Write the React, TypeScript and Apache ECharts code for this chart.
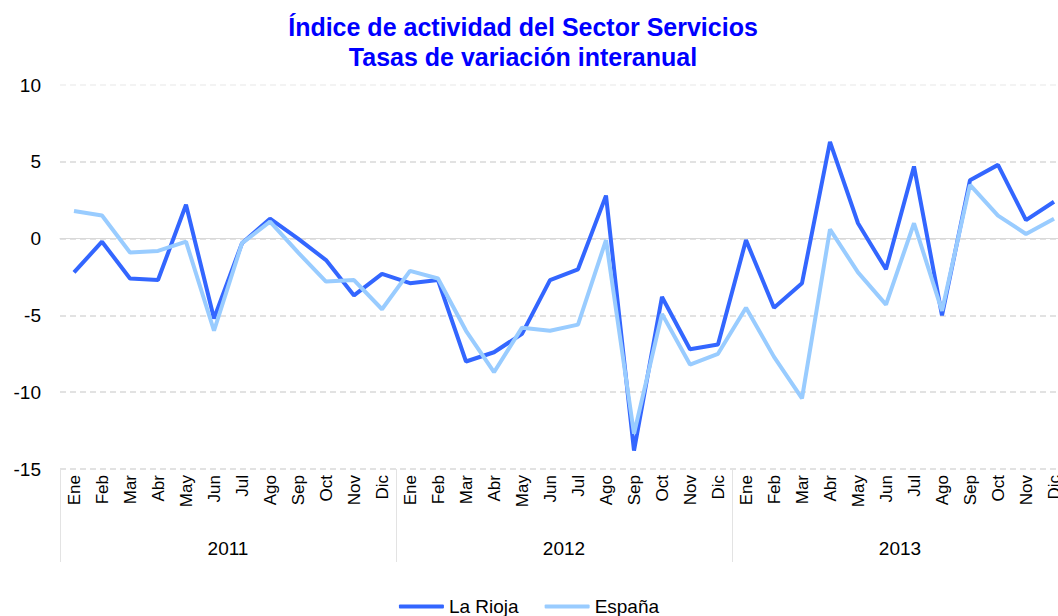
import React, { useEffect, useRef } from "react";
import * as echarts from "echarts";

const monthNames = ["Ene", "Feb", "Mar", "Abr", "May", "Jun", "Jul", "Ago", "Sep", "Oct", "Nov", "Dic"];
const years = ["2011", "2012", "2013"];
const laRioja = [
  -2.2, -0.2, -2.6, -2.7, 2.2, -5.2, -0.3, 1.3, 0.0, -1.4, -3.7, -2.3,
  -2.9, -2.7, -8.0, -7.4, -6.2, -2.7, -2.0, 2.8, -13.8, -3.8, -7.2, -6.9,
  -0.1, -4.5, -2.9, 6.3, 1.0, -2.0, 4.7, -5.0, 3.8, 4.8, 1.2, 2.4,
];
const espana = [
  1.8, 1.5, -0.9, -0.8, -0.2, -6.0, -0.3, 1.1, -0.9, -2.8, -2.7, -4.6,
  -2.1, -2.6, -6.0, -8.7, -5.8, -6.0, -5.6, -0.1, -12.7, -4.9, -8.2, -7.5,
  -4.5, -7.7, -10.4, 0.6, -2.2, -4.3, 1.0, -4.7, 3.5, 1.5, 0.3, 1.3,
];
const titleLines = ["Índice de actividad del Sector Servicios", "Tasas de variación interanual"];
const seriesNames = ["La Rioja", "España"];

const categories = years.flatMap(() => monthNames);
const FONT = "Liberation Sans, Arial, Helvetica, sans-serif";

export default function App() {
  const ref = useRef<HTMLDivElement>(null);
  useEffect(() => {
    if (!ref.current) return;
    const chart = echarts.init(ref.current, null, { renderer: "svg" });
    chart.setOption({
      animation: false,
      backgroundColor: "#ffffff",
      textStyle: { fontFamily: FONT },
      graphic: [
        {
          type: "text",
          x: 523,
          y: 27,
          style: {
            text: titleLines[0],
            fill: "#0000ff",
            font: `bold 25px ${FONT}`,
            align: "center",
            verticalAlign: "middle",
          },
        },
        {
          type: "text",
          x: 523,
          y: 57,
          style: {
            text: titleLines[1],
            fill: "#0000ff",
            font: `bold 25px ${FONT}`,
            align: "center",
            verticalAlign: "middle",
          },
        },
      ],
      legend: {
        data: seriesNames,
        left: "center",
        top: 592,
        icon: "roundRect",
        itemWidth: 45,
        itemHeight: 4,
        itemGap: 26,
        textStyle: { fontSize: 19, color: "#000", fontFamily: FONT },
      },
      grid: {
        left: 60,
        right: -10,
        top: 85,
        bottom: 147,
        containLabel: false,
        outerBoundsMode: "none",
      },
      xAxis: [
        {
          type: "category",
          data: categories,
          boundaryGap: true,
          axisLine: { show: true, lineStyle: { color: "#d9d9d9", width: 1 } },
          axisTick: { show: false },
          axisLabel: {
            interval: 0,
            rotate: 90,
            fontSize: 17,
            color: "#000",
            margin: 6,
            fontFamily: FONT,
          },
        },
        {
          type: "category",
          data: years,
          position: "bottom",
          boundaryGap: true,
          axisLine: { show: false },
          axisTick: { show: true, length: 93, interval: 0, lineStyle: { color: "#e3e3e3", width: 1 } },
          axisLabel: { interval: 0, fontSize: 19, color: "#000", margin: 70, fontFamily: FONT },
          splitLine: { show: false },
        },
      ],
      yAxis: {
        type: "value",
        min: -15,
        max: 10,
        interval: 5,
        axisLine: { show: false },
        axisTick: { show: false },
        axisLabel: { fontSize: 19, color: "#000", margin: 19, fontFamily: FONT },
        splitLine: {
          show: true,
          lineStyle: {
            color: ["#d9d9d9", "#d9d9d9", "#d9d9d9", "#d9d9d9", "#d9d9d9", "#f0f0f0"],
            width: 1.5,
            type: [6, 4],
          },
        },
      },
      series: [
        {
          name: seriesNames[0],
          type: "line",
          data: laRioja,
          symbol: "none",
          xAxisIndex: 0,
          color: "#3366ff",
          lineStyle: { color: "#3366ff", width: 4 },
        },
        {
          name: seriesNames[1],
          type: "line",
          data: espana,
          symbol: "none",
          xAxisIndex: 0,
          color: "#99ccff",
          lineStyle: { color: "#99ccff", width: 4 },
        },
      ],
    });
    return () => chart.dispose();
  }, []);
  return (
    <div
      ref={ref}
      style={{ position: "absolute", left: 0, top: 0, width: 1058, height: 616 }}
    />
  );
}
